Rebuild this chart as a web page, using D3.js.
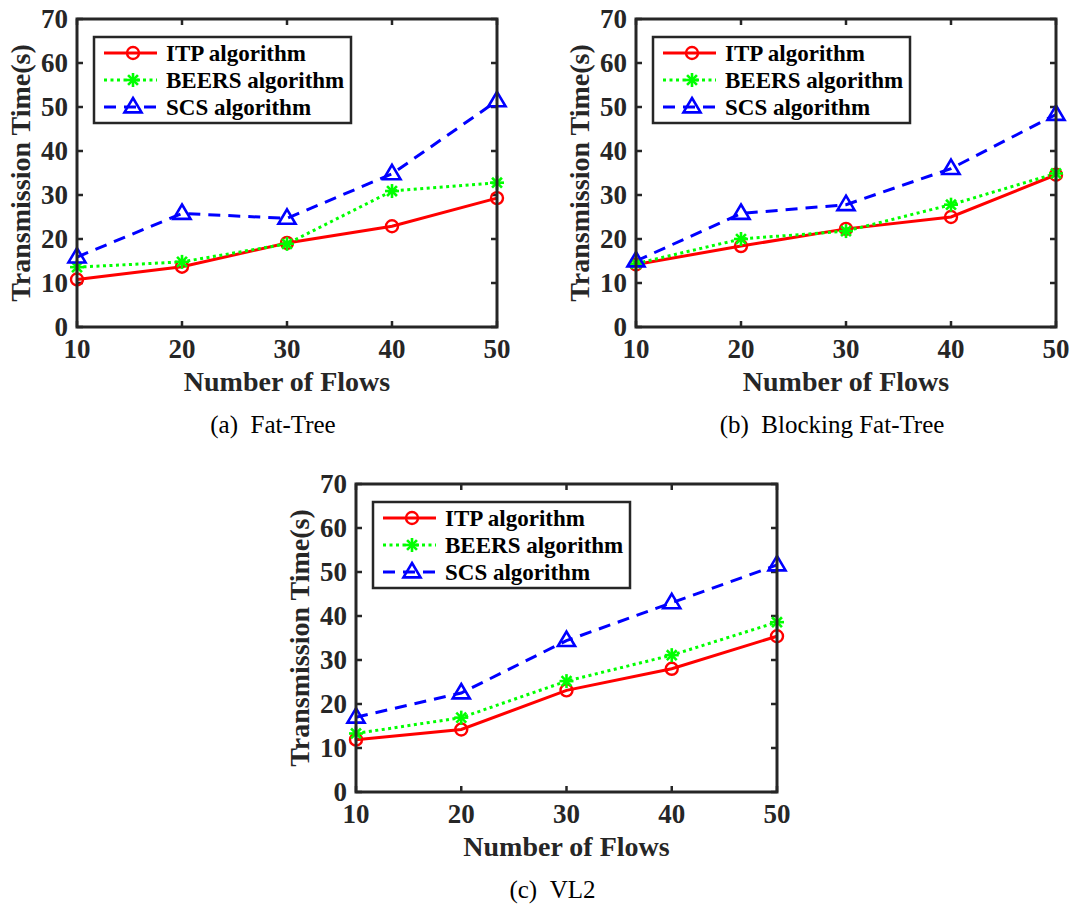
<!DOCTYPE html>
<html>
<head>
<meta charset="utf-8">
<script src="https://d3js.org/d3.v7.min.js"></script>
<style>
  body { margin: 0; background: #fff; }
  svg { display: block; }
  .tick-label { font-family: "Liberation Serif", "Times New Roman", serif; font-weight: bold; font-size: 27px; fill: #262626; }
  .axis-title { font-family: "Liberation Serif", "Times New Roman", serif; font-weight: bold; font-size: 28px; fill: #262626; }
  .legend-text { font-family: "Liberation Serif", "Times New Roman", serif; font-weight: bold; font-size: 23px; fill: #000; }
  .caption { font-family: "Liberation Serif", "Times New Roman", serif; font-size: 25px; fill: #000; white-space: pre; }
</style>
</head>
<body>
<svg id="chart" width="1072" height="905"></svg>
<script>
// values
const flows = [10, 20, 30, 40, 50];
const yTicks = [0, 10, 20, 30, 40, 50, 60, 70];
const seriesNames = ['ITP algorithm', 'BEERS algorithm', 'SCS algorithm'];

const fatTreeITP = [10.8, 13.7, 19.1, 22.9, 29.3];
const fatTreeBEERS = [13.6, 14.8, 18.9, 30.9, 32.8];
const fatTreeSCS = [15.9, 25.8, 24.7, 34.8, 51.4];

const blockingITP = [14.2, 18.4, 22.3, 25.0, 34.6];
const blockingBEERS = [14.4, 20.0, 21.8, 27.8, 34.9];
const blockingSCS = [15.0, 25.8, 27.8, 36.0, 48.3];

const vl2ITP = [11.9, 14.2, 23.1, 28.0, 35.4];
const vl2BEERS = [13.3, 16.9, 25.2, 31.1, 38.6];
const vl2SCS = [17.0, 22.5, 34.4, 43.0, 51.6];

const captions = ['(a)\u2002Fat-Tree', '(b)\u2002Blocking Fat-Tree', '(c)\u2002VL2'];

// layout of the three panels (plot area in pixels)
const panels = [
  { left: 77, top: 19, width: 420, height: 308, data: [fatTreeITP, fatTreeBEERS, fatTreeSCS], caption: captions[0] },
  { left: 636, top: 19, width: 420, height: 308, data: [blockingITP, blockingBEERS, blockingSCS], caption: captions[1] },
  { left: 356, top: 484, width: 421, height: 308, data: [vl2ITP, vl2BEERS, vl2SCS], caption: captions[2] }
];

const styles = [
  { color: '#ff0000', dash: null, marker: 'circle' },
  { color: '#00ff00', dash: '3,3.5', marker: 'star' },
  { color: '#0000ff', dash: '12,8', marker: 'triangle' }
];

const axisColor = '#262626';
const svg = d3.select('#chart');

function drawMarker(g, type, x, y, color) {
  if (type === 'circle') {
    g.append('circle').attr('cx', x).attr('cy', y).attr('r', 6)
      .attr('fill', 'none').attr('stroke', color).attr('stroke-width', 2.4);
  } else if (type === 'star') {
    const r = 7;
    for (let k = 0; k < 4; k++) {
      const a = k * Math.PI / 4;
      g.append('line')
        .attr('x1', x - r * Math.cos(a)).attr('y1', y - r * Math.sin(a))
        .attr('x2', x + r * Math.cos(a)).attr('y2', y + r * Math.sin(a))
        .attr('stroke', color).attr('stroke-width', 2.6);
    }
  } else {
    const s = 9;
    g.append('path')
      .attr('d', `M${x},${y - s} L${x + s * 0.95},${y + s * 0.6} L${x - s * 0.95},${y + s * 0.6} Z`)
      .attr('fill', 'none').attr('stroke', color).attr('stroke-width', 2.6)
      .attr('stroke-linejoin', 'miter');
  }
}

panels.forEach(p => {
  const g = svg.append('g').attr('transform', `translate(${p.left},${p.top})`);
  const x = d3.scaleLinear().domain([10, 50]).range([0, p.width]);
  const y = d3.scaleLinear().domain([0, 70]).range([p.height, 0]);

  // ticks on all four sides, pointing inward
  const tickLen = 6;
  flows.forEach(v => {
    g.append('line').attr('x1', x(v)).attr('x2', x(v)).attr('y1', p.height).attr('y2', p.height - tickLen)
      .attr('stroke', axisColor).attr('stroke-width', 2.5);
    g.append('line').attr('x1', x(v)).attr('x2', x(v)).attr('y1', 0).attr('y2', tickLen)
      .attr('stroke', axisColor).attr('stroke-width', 2.5);
    g.append('text').attr('class', 'tick-label').attr('x', x(v)).attr('y', p.height + 31)
      .attr('text-anchor', 'middle').text(v);
  });
  yTicks.forEach(v => {
    g.append('line').attr('x1', 0).attr('x2', tickLen).attr('y1', y(v)).attr('y2', y(v))
      .attr('stroke', axisColor).attr('stroke-width', 2.5);
    g.append('line').attr('x1', p.width).attr('x2', p.width - tickLen).attr('y1', y(v)).attr('y2', y(v))
      .attr('stroke', axisColor).attr('stroke-width', 2.5);
    g.append('text').attr('class', 'tick-label').attr('x', -9).attr('y', y(v)).attr('dy', '0.35em')
      .attr('text-anchor', 'end').text(v);
  });

  // data lines
  p.data.forEach((vals, i) => {
    const st = styles[i];
    const line = d3.line().x((d, j) => x(flows[j])).y(d => y(d));
    g.append('path').datum(vals).attr('d', line)
      .attr('fill', 'none').attr('stroke', st.color).attr('stroke-width', 3)
      .attr('stroke-dasharray', st.dash);
  });
  p.data.forEach((vals, i) => {
    vals.forEach((v, j) => drawMarker(g, styles[i].marker, x(flows[j]), y(v), styles[i].color));
  });

  // frame
  g.append('rect').attr('width', p.width).attr('height', p.height)
    .attr('fill', 'none').attr('stroke', axisColor).attr('stroke-width', 3);

  // legend
  const lg = g.append('g').attr('transform', 'translate(17,18)');
  lg.append('rect').attr('width', 257).attr('height', 86)
    .attr('fill', '#fff').attr('stroke', axisColor).attr('stroke-width', 2.5);
  seriesNames.forEach((name, i) => {
    const st = styles[i];
    const yy = 16 + i * 27;
    lg.append('line').attr('x1', 10).attr('x2', 63).attr('y1', yy).attr('y2', yy)
      .attr('stroke', st.color).attr('stroke-width', 3).attr('stroke-dasharray', st.dash);
    drawMarker(lg, st.marker, 39, yy, st.color);
    lg.append('text').attr('class', 'legend-text').attr('x', 72).attr('y', yy).attr('dy', '0.35em').text(name);
  });

  // axis titles
  g.append('text').attr('class', 'axis-title').attr('x', p.width / 2).attr('y', p.height + 64)
    .attr('text-anchor', 'middle').text('Number of Flows');
  g.append('text').attr('class', 'axis-title')
    .attr('transform', `translate(${-47},${p.height / 2}) rotate(-90)`)
    .attr('text-anchor', 'middle').text('Transmission Time(s)');

  // caption
  g.append('text').attr('class', 'caption').attr('x', p.width / 2 - 14).attr('y', p.height + 106)
    .attr('text-anchor', 'middle').text(p.caption);
});
</script>
</body>
</html>
